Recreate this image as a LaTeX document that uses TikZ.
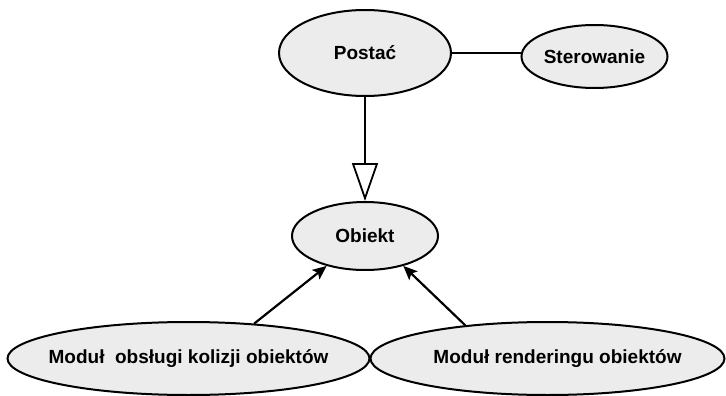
\documentclass[tikz,border=0pt]{standalone}
\usepackage{fontspec}
\setmainfont{Liberation Sans}
\usetikzlibrary{shapes.geometric,arrows.meta}

\definecolor{bubblefill}{HTML}{ECECEC}

% label set in a zero-width box, so the ellipse size comes from the minimum sizes only
\newcommand{\bubbletext}[1]{\makebox[0pt]{#1}}

\tikzset{
  bubble/.style={ellipse, draw=black, line width=2pt, fill=bubblefill,
    inner sep=0pt, font=\fontsize{19pt}{22pt}\selectfont\bfseries},
  link/.style={line width=2.2pt},
  inherit/.style={link, -{Triangle[open, length=38pt, width=26pt, line width=1.8pt]}},
  uses/.style={link, -{Stealth[length=14pt, width=12pt, inset=3pt]}},
}

\begin{document}
\begin{tikzpicture}[x=1pt, y=-1pt]
  \useasboundingbox (0,0) rectangle (726,396);

  % class bubbles
  \node[bubble, minimum width=172pt, minimum height=86pt] (postac) at (365,53) {\bubbletext{Postać}};
  \node[bubble, minimum width=146pt, minimum height=63pt] (ster) at (594.5,56.5) {\bubbletext{Sterowanie}};
  \node[bubble, minimum width=146pt, minimum height=68pt] (obiekt) at (365,236) {\bubbletext{Obiekt}};
  \node[bubble, minimum width=362pt, minimum height=73pt] (kol) at (188.5,358.5) {\bubbletext{Moduł\ \ obsługi kolizji obiektów}};
  \node[bubble, minimum width=354pt, minimum height=73pt] (rend) at (547.5,358.5) {\bubbletext{\hspace*{20pt}Moduł renderingu obiektów}};

  % association
  \draw[link] (postac.east) -- (postac.east -| ster.west);

  % generalisation
  \draw[inherit] (postac.south) -- (obiekt.north);

  % dependencies
  \draw[uses] (kol.28) -- (obiekt.218);
  \draw[uses] (rend.158) -- (obiekt.-38);
\end{tikzpicture}
\end{document}
